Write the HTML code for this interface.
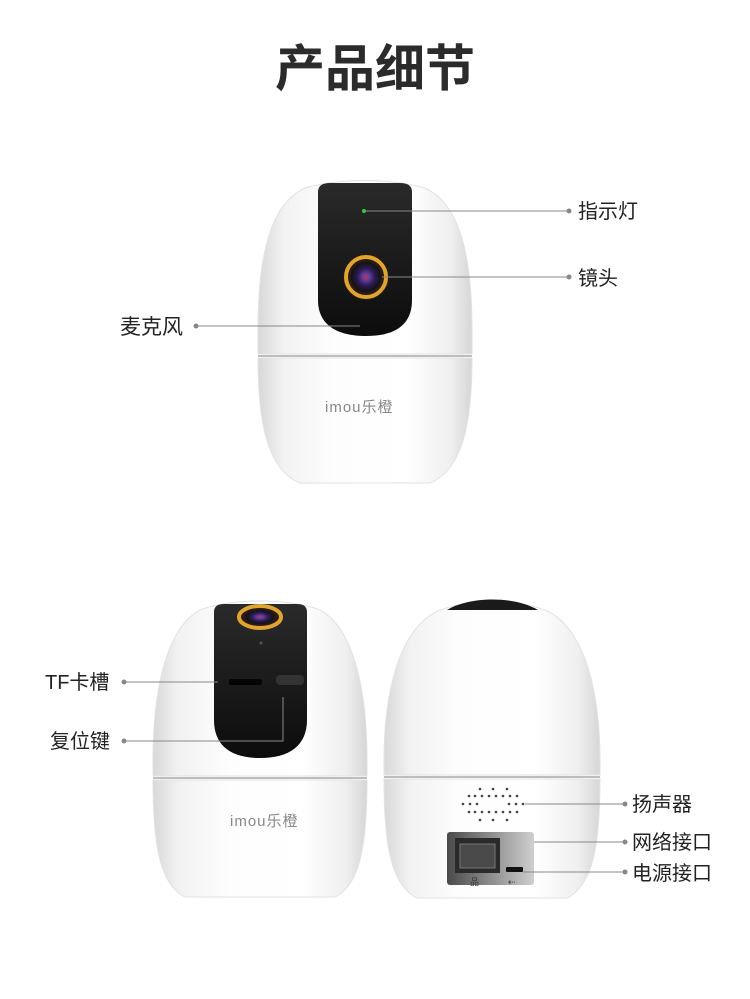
<!DOCTYPE html>
<html><head><meta charset="utf-8"><style>
html,body{margin:0;padding:0;background:#fff}
svg{display:block}
text{font-family:"Liberation Sans","Noto Sans CJK SC",sans-serif;fill:#222}
</style></head><body>
<svg width="750" height="999" viewBox="0 0 750 999" xmlns="http://www.w3.org/2000/svg">
<defs>
<linearGradient id="sh" x1="0" x2="1" y1="0" y2="0">
<stop offset="0" stop-color="#d8d8d8"/><stop offset="0.12" stop-color="#f2f2f2"/><stop offset="0.35" stop-color="#fdfdfd"/><stop offset="0.7" stop-color="#ffffff"/><stop offset="0.9" stop-color="#efefef"/><stop offset="1" stop-color="#d6d6d6"/>
</linearGradient>
<linearGradient id="vis" x1="0" x2="0" y1="0" y2="1">
<stop offset="0" stop-color="#2a2a2a"/><stop offset="1" stop-color="#0c0c0c"/>
</linearGradient>
<radialGradient id="lens"><stop offset="0" stop-color="#d03030"/><stop offset="0.2" stop-color="#6a40a0"/><stop offset="0.6" stop-color="#2a1a50"/><stop offset="1" stop-color="#111"/></radialGradient>
<linearGradient id="port" x1="0" x2="1"><stop offset="0" stop-color="#4a4a4a"/><stop offset="1" stop-color="#cfcfcf"/></linearGradient>
</defs>

<text x="375" y="86" font-size="50" font-weight="bold" text-anchor="middle" style="fill:#2b2b2b">产品细节</text>

<!-- top camera -->
<path d="M305,188 C268,205 258,262 258,330 L258,354 L472,354 L472,330 C472,262 462,205 425,188 C390,178 340,178 305,188 Z" fill="url(#sh)" stroke="#e2e2e2"/>
<path d="M258,358 L472,358 C472,425 462,470 430,483 L300,483 C268,470 258,425 258,358 Z" fill="url(#sh)" stroke="#e2e2e2"/>
<line x1="258" y1="356" x2="472" y2="356" stroke="#bdbdbd" stroke-width="2"/>
<path d="M318,192 Q318,183 330,183 L400,183 Q412,183 412,192 L412,300 C412,325 395,336 366,336 C337,336 318,325 318,300 Z" fill="url(#vis)"/>
<circle cx="364" cy="211" r="2" fill="#2ecc40"/>
<circle cx="366" cy="277" r="23" fill="#2a1a10"/>
<circle cx="366" cy="277" r="20" fill="none" stroke="#e0a530" stroke-width="4"/>
<circle cx="366" cy="277" r="15" fill="url(#lens)"/>
<text x="325" y="412" font-size="15" style="fill:#888" letter-spacing="1">imou乐橙</text>

<!-- bottom-left camera -->
<path d="M200,610 C163,630 153,700 153,760 L153,776 L367,776 L367,760 C367,700 357,630 320,610 C290,598 230,598 200,610 Z" fill="url(#sh)" stroke="#e2e2e2"/>
<path d="M153,780 L367,780 C367,845 360,885 335,897 L185,897 C160,885 153,845 153,780 Z" fill="url(#sh)" stroke="#e2e2e2"/>
<line x1="153" y1="778" x2="367" y2="778" stroke="#bdbdbd" stroke-width="2"/>
<path d="M214,612 Q214,604 224,604 L297,604 Q307,604 307,612 L307,720 C307,745 290,758 260,758 C230,758 214,745 214,720 Z" fill="url(#vis)"/>
<ellipse cx="260" cy="617" rx="23" ry="13" fill="#2a1a10"/>
<ellipse cx="260" cy="617" rx="21" ry="11" fill="none" stroke="#e0a530" stroke-width="4"/>
<ellipse cx="260" cy="617" rx="14" ry="7" fill="url(#lens)"/>
<circle cx="261" cy="643" r="1.5" fill="#555"/>
<rect x="229" y="679" width="33" height="6" rx="2" fill="#050505"/>
<rect x="276" y="675" width="28" height="10" rx="4" fill="#333"/>
<text x="230" y="826" font-size="15" style="fill:#888" letter-spacing="1">imou乐橙</text>

<!-- bottom-right camera -->
<path d="M440,610 C398,628 384,695 384,760 L384,775 L600,775 L600,760 C600,695 586,628 545,610 C510,598 475,598 440,610 Z" fill="url(#sh)" stroke="#e2e2e2"/>
<path d="M447,610 C470,596 515,596 538,610 Z" fill="#1a1a1a"/>
<path d="M384,779 L600,779 C600,845 593,885 567,898 L417,898 C391,885 384,845 384,779 Z" fill="url(#sh)" stroke="#e2e2e2"/>
<line x1="384" y1="777" x2="600" y2="777" stroke="#bdbdbd" stroke-width="2"/>
<g fill="#444">
<circle cx="480" cy="789" r="1.3"/><circle cx="493" cy="789" r="1.3"/><circle cx="507" cy="789" r="1.3"/>
<circle cx="469" cy="796" r="1.3"/><circle cx="475" cy="796" r="1.3"/><circle cx="482" cy="796" r="1.3"/><circle cx="489" cy="796" r="1.3"/><circle cx="496" cy="796" r="1.3"/><circle cx="503" cy="796" r="1.3"/><circle cx="510" cy="796" r="1.3"/><circle cx="517" cy="796" r="1.3"/>
<circle cx="463" cy="804" r="1.3"/><circle cx="470" cy="804" r="1.3"/><circle cx="477" cy="804" r="1.3"/><circle cx="509" cy="804" r="1.3"/><circle cx="516" cy="804" r="1.3"/><circle cx="523" cy="804" r="1.3"/>
<circle cx="469" cy="812" r="1.3"/><circle cx="475" cy="812" r="1.3"/><circle cx="482" cy="812" r="1.3"/><circle cx="489" cy="812" r="1.3"/><circle cx="496" cy="812" r="1.3"/><circle cx="503" cy="812" r="1.3"/><circle cx="510" cy="812" r="1.3"/><circle cx="517" cy="812" r="1.3"/>
<circle cx="480" cy="820" r="1.3"/><circle cx="493" cy="820" r="1.3"/><circle cx="507" cy="820" r="1.3"/>
</g>
<rect x="447" y="832" width="87" height="53" rx="3" fill="url(#port)"/>
<rect x="455" y="838" width="45" height="35" fill="#2a2a2a"/>
<rect x="460" y="844" width="35" height="24" fill="#4a4a4a" stroke="#777"/>
<rect x="506" y="867" width="17" height="5" rx="1" fill="#111"/>
<text x="470" y="885" font-size="9" style="fill:#333">品</text>
<text x="508" y="885" font-size="9" style="fill:#333">⇠</text>

<!-- connectors -->
<g stroke="#888" stroke-width="1">
<line x1="366" y1="211" x2="569" y2="211"/>
<line x1="382" y1="277" x2="569" y2="277"/>
<line x1="196" y1="326" x2="360" y2="326"/>
<line x1="124" y1="682" x2="218" y2="682"/>
<polyline points="124,741 283,741 283,697" fill="none"/>
<line x1="525" y1="804" x2="625" y2="804"/>
<line x1="534" y1="842" x2="625" y2="842"/>
<line x1="523" y1="872" x2="625" y2="872"/>
</g>
<g fill="#888">
<circle cx="569" cy="211" r="2.5"/><circle cx="569" cy="277" r="2.5"/><circle cx="196" cy="326" r="2.5"/>
<circle cx="124" cy="682" r="2.5"/><circle cx="124" cy="741" r="2.5"/>
<circle cx="625" cy="804" r="2.5"/><circle cx="625" cy="842" r="2.5"/><circle cx="625" cy="872" r="2.5"/>
</g>
<text x="578" y="218" font-size="20">指示灯</text>
<text x="578" y="285" font-size="20">镜头</text>
<text x="120" y="334" font-size="21">麦克风</text>
<text x="45" y="689" font-size="20">TF卡槽</text>
<text x="50" y="748" font-size="20">复位键</text>
<text x="632" y="811" font-size="20">扬声器</text>
<text x="632" y="849" font-size="20">网络接口</text>
<text x="632" y="880" font-size="20">电源接口</text>
</svg>
</body></html>
